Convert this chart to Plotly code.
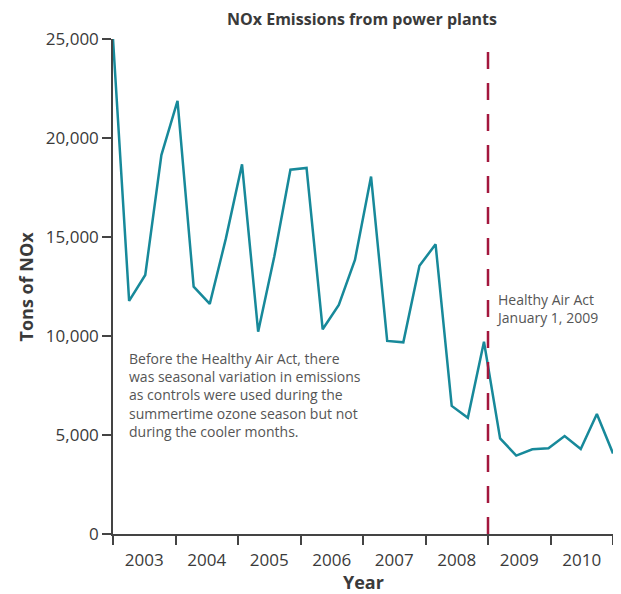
import plotly.graph_objects as go

# quarterly NOx readings, 2003 through 2010
nox_tons = [
    25000, 11770, 13080, 19140, 21870, 12490, 11620, 14930,
    18670, 10220, 14010, 18400, 18490, 10340, 11570, 13840,
    18050, 9750, 9680, 13550, 14630, 6470, 5870, 9710,
    4830, 3960, 4280, 4330, 4950, 4290, 6060, 4070,
]
years = [2003, 2004, 2005, 2006, 2007, 2008, 2009, 2010]
y_ticks = [0, 5000, 10000, 15000, 20000, 25000]
act_year = 2009

# points are spread evenly from the start of 2003 to the end of 2010
n = len(nox_tons)
x_pos = [years[0] + i * len(years) / (n - 1) for i in range(n)]

AXIS = "#444444"
TEXT = "#3a3a3a"
NOTE = "#555555"
FONT = "Open Sans"

# the page body adds an 8px margin, so the figure is 8px smaller each way
W, H = 613, 586

fig = go.Figure()
fig.add_trace(go.Scatter(
    x=x_pos, y=nox_tons, mode="lines",
    line=dict(color="#17899a", width=2.5),
    hoverinfo="skip", showlegend=False,
))

fig.add_shape(
    type="line", xref="x", yref="y",
    x0=act_year, x1=act_year, y0=0, y1=25000,
    line=dict(color="#a3173d", width=2.5, dash="17px,14px"),
)

fig.add_annotation(
    x=act_year, y=11390, xref="x", yref="y", xshift=6,
    text="Healthy Air Act<br>January 1, 2009",
    showarrow=False, xanchor="left", yanchor="middle", align="left",
    font=dict(family=FONT, size=14, color=NOTE),
)
fig.add_annotation(
    x=2003.22, y=7000, xref="x", yref="y",
    text=("Before the Healthy Air Act, there<br>was seasonal variation in emissions<br>"
          "as controls were used during the<br>summertime ozone season but not<br>"
          "during the cooler months."),
    showarrow=False, xanchor="left", yanchor="middle", align="left",
    font=dict(family=FONT, size=14, color=NOTE),
)

# axis titles placed by hand
fig.add_annotation(
    x=0.5, y=0, xref="paper", yref="paper", yshift=-48,
    text="<b>Year</b>", showarrow=False, yanchor="middle",
    font=dict(family=FONT, size=18, color=TEXT),
)
fig.add_annotation(
    x=0, y=0.5, xref="paper", yref="paper", xshift=-88,
    text="<b>Tons of NOx</b>", showarrow=False, textangle=-90, xanchor="center",
    font=dict(family=FONT, size=18, color=TEXT),
)

fig.update_layout(
    width=W, height=H,
    margin=dict(l=105, r=8, t=31, b=60),
    paper_bgcolor="white", plot_bgcolor="white",
    font=dict(family=FONT, color=TEXT),
    title=dict(
        text="<b>NOx Emissions from power plants</b>",
        x=354 / W, xanchor="center", y=1 - 11 / H, yanchor="middle",
        font=dict(family=FONT, size=16, color=TEXT),
    ),
)
fig.update_xaxes(
    range=[years[0], years[-1] + 1],
    tickvals=[y + 0.5 for y in years], ticktext=[str(y) for y in years],
    ticks="outside", ticklen=10, tickcolor="rgba(0,0,0,0)",
    minor=dict(tickvals=list(range(years[0], years[-1] + 2)), ticks="outside",
               ticklen=9, tickwidth=1.5, tickcolor=AXIS),
    showline=True, linecolor=AXIS, linewidth=1.5,
    showgrid=False, zeroline=False,
    tickfont=dict(family=FONT, size=17, color=TEXT),
)
fig.update_yaxes(
    range=[0, 25000], tickvals=y_ticks, tickformat=",",
    ticks="outside", ticklen=9, tickwidth=1.5, tickcolor=AXIS,
    showline=True, linecolor=AXIS, linewidth=1.5,
    showgrid=False, zeroline=False,
    tickfont=dict(family=FONT, size=17, color=TEXT),
)

fig.write_html("out.html")
